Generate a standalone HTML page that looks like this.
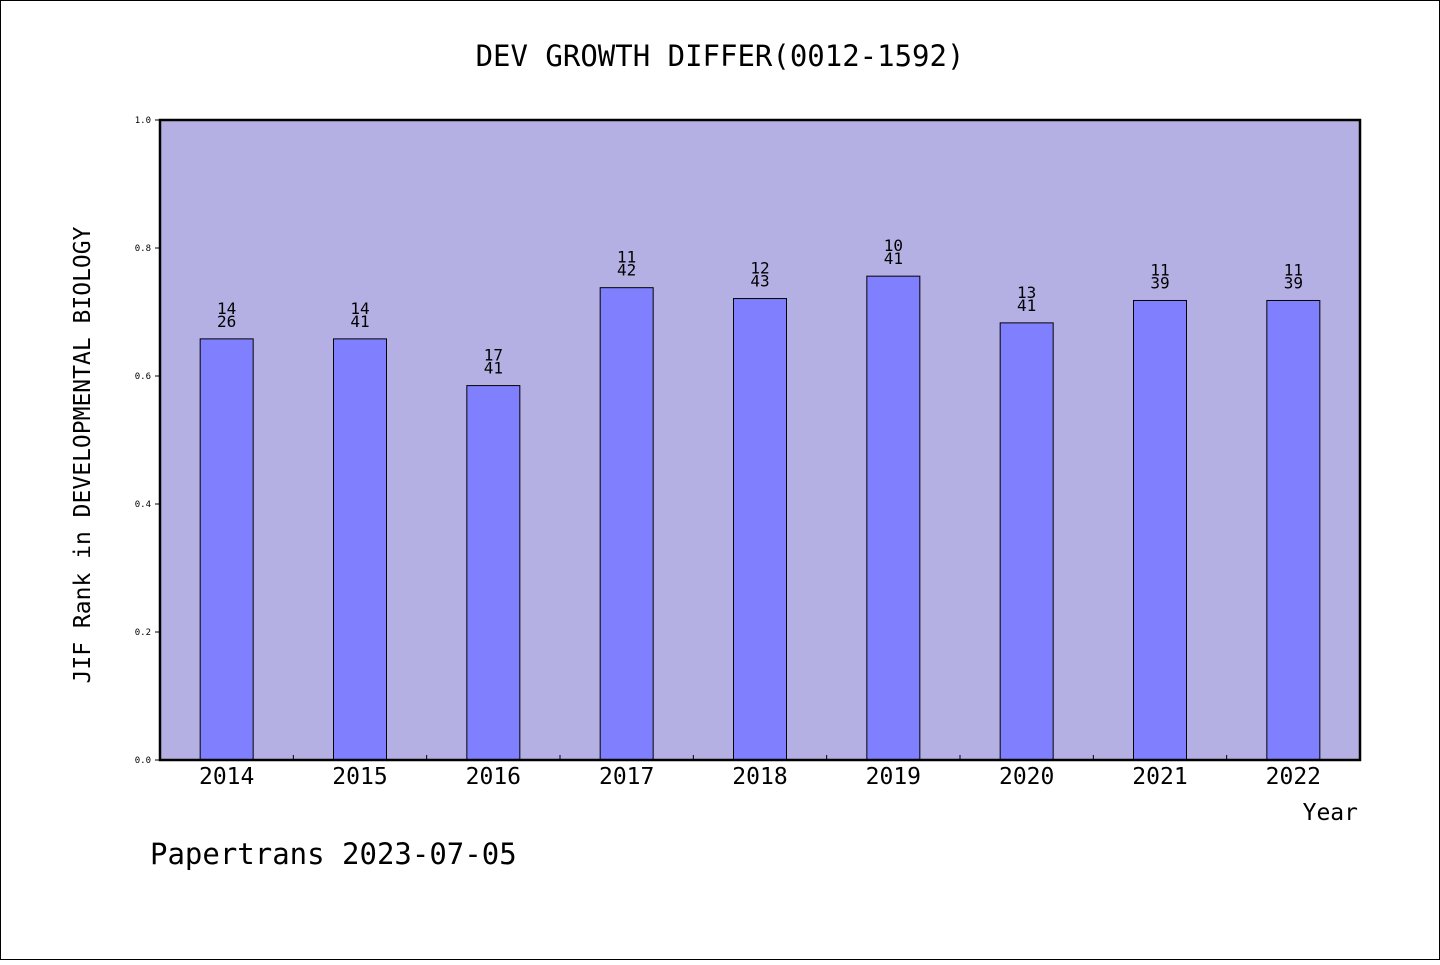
<!DOCTYPE html>
<html><head><meta charset="utf-8"><style>
body{margin:0;background:#fff}
svg text{font-family:"DejaVu Sans Mono","Liberation Mono",monospace;fill:#000}
</style></head><body>
<svg id="c" width="1440" height="960" xmlns="http://www.w3.org/2000/svg">
<rect x="0.5" y="0.5" width="1439" height="959" fill="#fff" stroke="#000"/>
<text x="720" y="66" font-size="29" text-anchor="middle">DEV GROWTH DIFFER(0012-1592)</text>
<rect x="160" y="120" width="1200" height="640" fill="#b5b0e3"/>
<g id="bars"></g>
<rect x="160" y="120" width="1200" height="640" fill="none" stroke="#000" stroke-width="2.5"/>
<text transform="translate(90,455) rotate(-90)" font-size="23" text-anchor="middle">JIF Rank in DEVELOPMENTAL BIOLOGY</text>
<text x="1358" y="820" font-size="23" text-anchor="end">Year</text>
<text x="150" y="864" font-size="29">Papertrans 2023-07-05</text>
</svg>
<script>
const years=["2014","2015","2016","2017","2018","2019","2020","2021","2022"];
const values=[0.658,0.658,0.585,0.738,0.721,0.756,0.683,0.718,0.718];
const ranks=["14","14","17","11","12","10","13","11","11"];
const totals=["26","41","41","42","43","41","41","39","39"];
const yTicks=["0.0","0.2","0.4","0.6","0.8","1.0"];
const NS="http://www.w3.org/2000/svg";
const X0=160,W=1200,Y0=760,H=640;
const step=W/years.length;
const y=v=>Y0-v*H;
const xc=i=>X0+step*(i+0.5);
const g=document.getElementById('bars');
function mk(t,a){const e=document.createElementNS(NS,t);for(const k in a)e.setAttribute(k,a[k]);g.appendChild(e);return e;}
yTicks.forEach(t=>{
  const v=parseFloat(t);
  const l=mk('line',{x1:X0-5,x2:X0,y1:y(v),y2:y(v),stroke:'#000'});
  
  
  const tx=mk('text',{x:X0-9,y:y(v)+3,'font-size':9,'text-anchor':'end'});
  tx.textContent=t;
  
  
});
years.forEach((yr,i)=>{
  const bw=53;
  const r=mk('rect',{x:xc(i)-bw/2,y:y(values[i]),width:bw,height:Y0-y(values[i]),fill:'#8080ff',stroke:'#000','stroke-width':1});
  
  
  const t1=mk('text',{x:xc(i),y:y(values[i])-25,'font-size':16,'text-anchor':'middle'});
  t1.textContent=ranks[i];
  
  
  const t2=mk('text',{x:xc(i),y:y(values[i])-12,'font-size':16,'text-anchor':'middle'});
  t2.textContent=totals[i];
  
  
  const xl=mk('text',{x:xc(i),y:784,'font-size':23,'text-anchor':'middle'});
  xl.textContent=yr;
  
  
  if(i>0){
    const tk=mk('line',{x1:X0+step*i,x2:X0+step*i,y1:Y0,y2:Y0-5,stroke:'#000'});
    
    
  }
});
</script>
</body></html>
